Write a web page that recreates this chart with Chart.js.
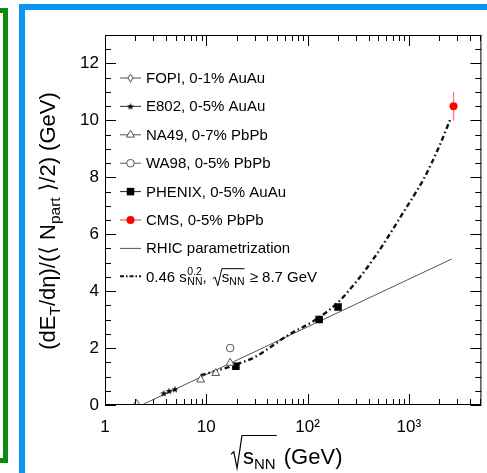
<!DOCTYPE html>
<html>
<head>
<meta charset="utf-8">
<script src="https://cdn.jsdelivr.net/npm/chart.js@4.4.0/dist/chart.umd.min.js"></script>
<style>
  html, body { margin: 0; padding: 0; background: #fff; overflow: hidden; }
  #wrap { position: relative; width: 487px; height: 473px; overflow: hidden; }
  .green { position: absolute; left: -100px; top: 8px; width: 98px; height: 445px; border: 5px solid #0d8a0d; }
  .blue { position: absolute; left: 19px; top: 4px; width: 600px; height: 600px; border: 6px solid #0a96f0; }
  #chart { position: absolute; left: 0; top: 0; }
</style>
</head>
<body>
<div id="wrap">
  <div class="green"></div>
  <div class="blue"></div>
  <canvas id="chart" width="487" height="473"></canvas>
</div>
<script>
// values
const fopiX = [2.05];
const fopiY = [0.05];
const e802X = [3.8, 4.3, 4.9];
const e802Y = [0.41, 0.49, 0.55];
const na49X = [8.8, 12.4, 17.2];
const na49Y = [0.89, 1.12, 1.48];
const wa98X = [17.2];
const wa98Y = [2.0];
const phenixX = [19.6, 130, 200];
const phenixY = [1.36, 3.0, 3.44];
const cmsX = [2760];
const cmsY = [10.5];
const cmsErr = [0.5];
const rhicX = [2.3, 2650];
const rhicY = [0, 5.13];
const fitX = [8.8, 12, 20, 30, 64, 127, 199, 267, 392, 570, 824, 1208, 1406, 2000, 2600];
const fitY = [1.05, 1.18, 1.43, 1.68, 2.45, 3.05, 3.6, 4.1, 4.85, 5.69, 6.6, 7.55, 7.95, 9.1, 10.09];

const xMajor = [1, 10, 100, 1000];
const xTickLabels = ['1', '10', '10²', '10³'];
const yMajor = [0, 2, 4, 6, 8, 10, 12];
const yTickLabels = ['0', '2', '4', '6', '8', '10', '12'];
const legendLabels = ['FOPI, 0-1% AuAu', 'E802, 0-5% AuAu', 'NA49, 0-7% PbPb', 'WA98, 0-5% PbPb',
  'PHENIX, 0-5% AuAu', 'CMS, 0-5% PbPb', 'RHIC parametrization'];

const FONT = '"Liberation Sans", Arial, "DejaVu Sans", sans-serif';
const X_MIN = 1, X_MAX = 5200, Y_MIN = 0, Y_MAX = 13;

function pts(xs, ys) {
  return xs.map((x, i) => ({ x: x, y: ys[i] }));
}

function makeDiamond() {
  const c = document.createElement('canvas');
  c.width = 7; c.height = 9;
  const g = c.getContext('2d');
  g.strokeStyle = '#444'; g.fillStyle = '#fff'; g.lineWidth = 1;
  g.beginPath();
  g.moveTo(3.5, 0.5); g.lineTo(6, 4.5); g.lineTo(3.5, 8.5); g.lineTo(1, 4.5);
  g.closePath(); g.fill(); g.stroke();
  return c;
}

function makeStar() {
  const c = document.createElement('canvas');
  c.width = 8; c.height = 8;
  const g = c.getContext('2d');
  g.fillStyle = '#000';
  g.beginPath();
  for (let i = 0; i < 10; i++) {
    const r = i % 2 ? 1.5 : 3.8;
    const a = -Math.PI / 2 + i * Math.PI / 5;
    const px = 4 + r * Math.cos(a), py = 4.3 + r * Math.sin(a);
    i ? g.lineTo(px, py) : g.moveTo(px, py);
  }
  g.closePath(); g.fill();
  return c;
}

const diamond = makeDiamond();
const star = makeStar();

// marker styles shared by the plot and the legend
const markers = [
  { pointStyle: diamond, radius: 4, bg: '#fff', fg: '#444', bw: 1 },
  { pointStyle: star, radius: 4, bg: '#000', fg: '#000', bw: 0 },
  { pointStyle: 'triangle', radius: 4.6, bg: '#fff', fg: '#555', bw: 1 },
  { pointStyle: 'circle', radius: 3.8, bg: '#fff', fg: '#555', bw: 1 },
  { pointStyle: 'rect', radius: 5.3, bg: '#000', fg: '#000', bw: 0 },
  { pointStyle: 'circle', radius: 4, bg: '#f00', fg: '#f00', bw: 0 }
];

function scatterSet(xs, ys, m) {
  return {
    data: pts(xs, ys), showLine: false,
    pointStyle: m.pointStyle, pointRadius: m.radius, pointHoverRadius: m.radius,
    pointBackgroundColor: m.bg, pointBorderColor: m.fg, pointBorderWidth: m.bw
  };
}

const errData = [];
cmsX.forEach((x, i) => {
  errData.push({ x: x, y: cmsY[i] - cmsErr[i] }, { x: x, y: cmsY[i] + cmsErr[i] });
});

function drawMarker(ctx, m, x, y) {
  ctx.fillStyle = m.bg;
  ctx.strokeStyle = m.fg;
  ctx.lineWidth = m.bw;
  if (Chart.helpers && Chart.helpers.drawPoint) {
    Chart.helpers.drawPoint(ctx, { pointStyle: m.pointStyle, rotation: 0, radius: m.radius, borderWidth: m.bw }, x, y);
  } else if (typeof m.pointStyle === 'object') {
    ctx.drawImage(m.pointStyle, x - m.pointStyle.width / 2, y - m.pointStyle.height / 2);
  }
}

function drawRadical(ctx, x, top, bottom, w, endX) {
  const h = bottom - top;
  ctx.beginPath();
  ctx.moveTo(x, top + h * 0.58);
  ctx.lineTo(x + w * 0.25, top + h * 0.5);
  ctx.lineTo(x + w * 0.55, bottom);
  ctx.lineTo(x + w, top);
  ctx.lineTo(endX, top);
  ctx.stroke();
}

const legendPlugin = {
  id: 'rootLegend',
  afterDraw(chart) {
    const ctx = chart.ctx;
    const x0 = 120, x1 = 141, xm = 130.5, xt = 146;
    const y0 = 77.5, dy = 28.4;
    const lineCols = ['#555', '#333', '#555', '#555', '#222', '#f33', '#555'];
    ctx.save();
    ctx.textBaseline = 'alphabetic';
    legendLabels.forEach((lab, i) => {
      const y = y0 + i * dy;
      ctx.strokeStyle = lineCols[i];
      ctx.lineWidth = 1;
      ctx.beginPath(); ctx.moveTo(x0, y + 0.5); ctx.lineTo(x1, y + 0.5); ctx.stroke();
      if (markers[i]) drawMarker(ctx, markers[i], xm, y + 0.5);
      ctx.fillStyle = '#000';
      ctx.font = '15px ' + FONT;
      ctx.fillText(lab, xt, y + 5.4);
    });
    // fit entry
    const y = y0 + 7 * dy;
    ctx.strokeStyle = '#111';
    ctx.lineWidth = 2;
    ctx.setLineDash([4, 2, 1.5, 2]);
    ctx.beginPath(); ctx.moveTo(x0, y); ctx.lineTo(x1, y); ctx.stroke();
    ctx.setLineDash([]);
    const yb = y + 5.4;
    let cx = xt;
    ctx.fillStyle = '#000';
    ctx.font = '15px ' + FONT;
    ctx.fillText('0.46 s', cx, yb);
    cx += ctx.measureText('0.46 s').width + 0.5;
    ctx.font = '10.5px ' + FONT;
    ctx.fillText('0.2', cx, yb - 7);
    ctx.fillText('NN', cx, yb + 3.5);
    cx += ctx.measureText('NN').width;
    ctx.font = '15px ' + FONT;
    ctx.fillText(',', cx, yb);
    cx += ctx.measureText(', ').width + 2;
    const rx = cx;
    cx += 9;
    ctx.fillText('s', cx, yb);
    cx += ctx.measureText('s').width;
    ctx.font = '10.5px ' + FONT;
    ctx.fillText('NN', cx, yb + 3.5);
    cx += ctx.measureText('NN').width;
    ctx.strokeStyle = '#000'; ctx.lineWidth = 1;
    drawRadical(ctx, rx, yb - 13, yb + 4, 9, cx);
    ctx.font = '15px ' + FONT;
    ctx.fillText(' \u2265 8.7 GeV', cx + 1, yb);
    ctx.restore();
  }
};

const framePlugin = {
  id: 'rootFrame',
  afterDatasetsDraw(chart) {
    const { ctx, chartArea: a, scales } = chart;
    const xs = scales.x, ys = scales.y;
    ctx.save();
    ctx.strokeStyle = '#000';
    ctx.lineWidth = 1;
    ctx.strokeRect(a.left + 0.5, a.top + 0.5, a.right - a.left - 1, a.bottom - a.top - 1);
    ctx.beginPath();
    for (let d = 1; d <= X_MAX; d *= 10) {
      for (let k = 1; k <= 9; k++) {
        const v = d * k;
        if (v > X_MAX) break;
        const px = Math.round(xs.getPixelForValue(v)) + 0.5;
        const len = k === 1 ? 11 : 6;
        ctx.moveTo(px, a.bottom); ctx.lineTo(px, a.bottom - len);
        ctx.moveTo(px, a.top); ctx.lineTo(px, a.top + len);
      }
    }
    for (let v = Y_MIN; v <= Y_MAX + 0.01; v += 0.5) {
      const py = Math.round(ys.getPixelForValue(v)) + 0.5;
      const len = v % 2 === 0 ? 11 : 6;
      ctx.moveTo(a.left, py); ctx.lineTo(a.left + len, py);
      ctx.moveTo(a.right, py); ctx.lineTo(a.right - len, py);
    }
    ctx.stroke();
    ctx.restore();
  }
};

const titlePlugin = {
  id: 'rootTitles',
  afterDraw(chart) {
    const ctx = chart.ctx;
    ctx.save();
    ctx.fillStyle = '#000';
    ctx.textBaseline = 'alphabetic';
    // y title, rotated
    const big = 22, small = 15.5;
    const parts = [['(dE', 0], ['T', 1], ['/d\u03b7)/(\u27e8 N', 0], ['part', 1], [' \u27e9/2) (GeV)', 0]];
    let w = 0;
    parts.forEach(p => { ctx.font = (p[1] ? small : big) + 'px ' + FONT; w += ctx.measureText(p[0]).width; });
    ctx.translate(55, 221);
    ctx.rotate(-Math.PI / 2);
    let cx = -w / 2;
    parts.forEach(p => {
      ctx.font = (p[1] ? small : big) + 'px ' + FONT;
      ctx.fillText(p[0], cx, p[1] ? 5 : 0);
      cx += ctx.measureText(p[0]).width;
    });
    ctx.setTransform(1, 0, 0, 1, 0, 0);
    // x title
    const yb = 464;
    let tx = 243;
    ctx.font = '22px ' + FONT;
    ctx.fillText('s', tx, yb);
    tx += ctx.measureText('s').width;
    ctx.font = '15px ' + FONT;
    ctx.fillText('NN', tx, yb + 5);
    tx += ctx.measureText('NN').width;
    ctx.strokeStyle = '#000'; ctx.lineWidth = 1.2;
    drawRadical(ctx, 231, 435.5, 468, 11, tx + 1);
    ctx.font = '22px ' + FONT;
    ctx.fillText(' (GeV)', tx + 2, yb);
    ctx.restore();
  }
};

Chart.defaults.font.family = FONT;

new Chart(document.getElementById('chart'), {
  type: 'scatter',
  data: {
    datasets: [
      scatterSet(cmsX, cmsY, markers[5]),
      scatterSet(fopiX, fopiY, markers[0]),
      scatterSet(e802X, e802Y, markers[1]),
      scatterSet(na49X, na49Y, markers[2]),
      scatterSet(wa98X, wa98Y, markers[3]),
      scatterSet(phenixX, phenixY, markers[4]),
      {
        data: errData, showLine: true, pointRadius: 0,
        borderColor: '#f77', borderWidth: 1.3
      },
      {
        data: pts(fitX, fitY), showLine: true, pointRadius: 0,
        borderColor: '#111', borderWidth: 2.4, borderDash: [5, 3, 1.5, 3],
        cubicInterpolationMode: 'monotone'
      },
      {
        data: pts(rhicX, rhicY), showLine: true, pointRadius: 0,
        borderColor: '#555', borderWidth: 1
      }
    ]
  },
  options: {
    responsive: false,
    animation: false,
    devicePixelRatio: 1,
    layout: { padding: { left: 0, top: 35, right: 1, bottom: 0 } },
    plugins: { legend: { display: false }, tooltip: { enabled: false } },
    scales: {
      x: {
        type: 'logarithmic', min: X_MIN, max: X_MAX,
        grid: { display: false, drawTicks: false },
        border: { display: false },
        afterBuildTicks: s => { s.ticks = xMajor.map(v => ({ value: v })); },
        afterFit: s => { s.height = 68; },
        ticks: {
          autoSkip: false, maxRotation: 0, padding: 12, color: '#000',
          font: { size: 17 },
          callback: (v, i) => xTickLabels[i]
        }
      },
      y: {
        type: 'linear', min: Y_MIN, max: Y_MAX,
        grid: { display: false, drawTicks: false },
        border: { display: false },
        afterBuildTicks: s => { s.ticks = yMajor.map(v => ({ value: v })); },
        afterFit: s => { s.width = 105; },
        ticks: {
          padding: 6, color: '#000',
          font: { size: 17 },
          callback: (v, i) => yTickLabels[i]
        }
      }
    }
  },
  plugins: [framePlugin, legendPlugin, titlePlugin]
});
</script>
</body>
</html>
